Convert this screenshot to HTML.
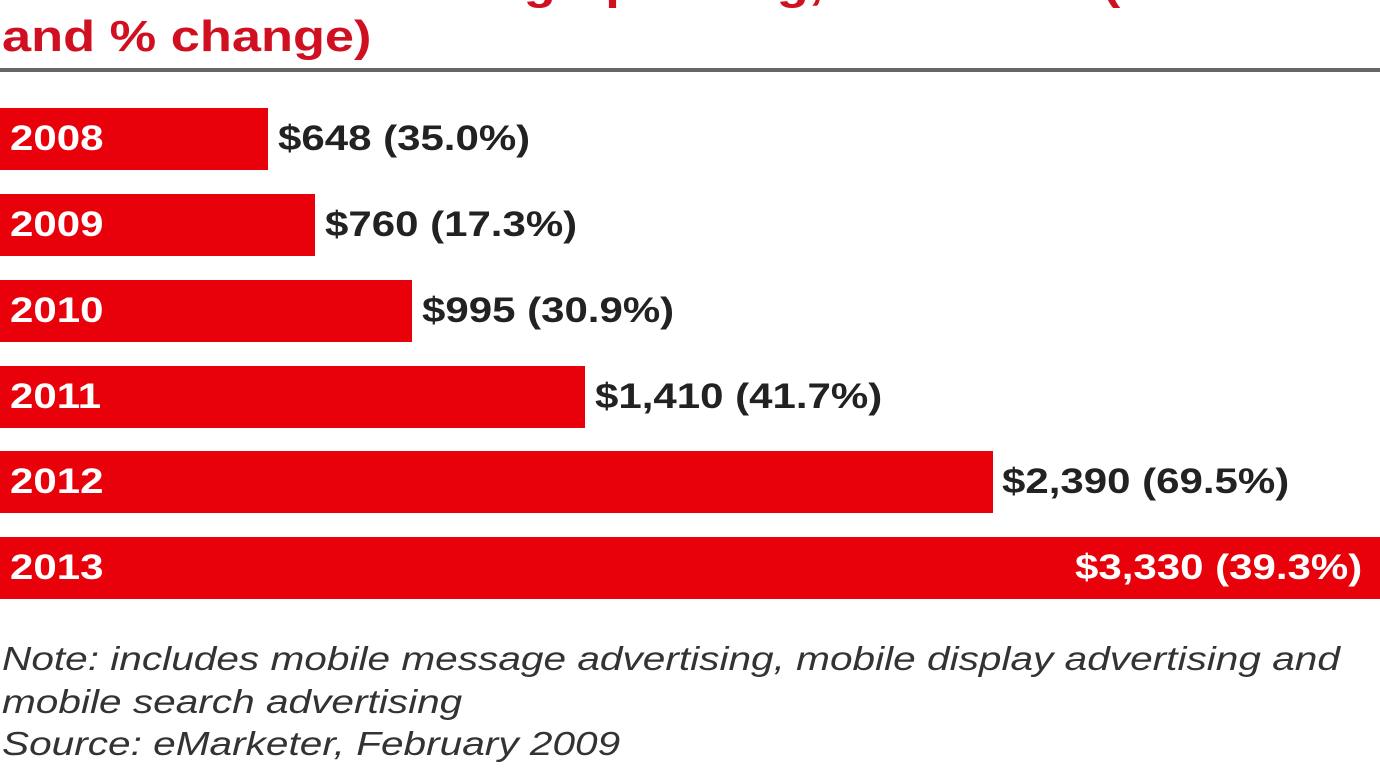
<!DOCTYPE html>
<html><head><style>
body{margin:0;width:1380px;height:777px;overflow:hidden;background:#fff;position:relative;font-family:"Liberation Sans",sans-serif}
.t{position:absolute;left:2px;color:#d01020;font-weight:bold;font-size:44px;white-space:nowrap;transform:scaleX(1.19);transform-origin:left}
.line{position:absolute;left:0;top:68px;width:1380px;height:4px;background:#666}
.bar{position:absolute;left:0;height:62px;background:#e8000a}
.y{position:absolute;left:10px;color:#fff;font-weight:bold;font-size:35px;line-height:62px;transform:scaleX(1.2);transform-origin:left}
.v{position:absolute;color:#222;font-weight:bold;font-size:35px;line-height:62px;white-space:nowrap;transform:scaleX(1.2);transform-origin:left}
.n{position:absolute;left:2px;color:#333;font-style:italic;font-size:33px;white-space:nowrap;transform:scaleX(1.23);transform-origin:left}
</style></head><body>
<div class="t" style="top:-40px">US Mobile Advertising Spending, 2008-2013 (millions</div>
<div class="t" style="top:12px">and % change)</div>
<div class="line"></div>

<div class="bar" style="top:108px;width:268px"></div><div class="y" style="top:108px">2008</div><div class="v" style="top:108px;left:278px">$648 (35.0%)</div>
<div class="bar" style="top:194px;width:315px"></div><div class="y" style="top:194px">2009</div><div class="v" style="top:194px;left:325px">$760 (17.3%)</div>
<div class="bar" style="top:280px;width:412px"></div><div class="y" style="top:280px">2010</div><div class="v" style="top:280px;left:422px">$995 (30.9%)</div>
<div class="bar" style="top:366px;width:585px"></div><div class="y" style="top:366px">2011</div><div class="v" style="top:366px;left:595px">$1,410 (41.7%)</div>
<div class="bar" style="top:451px;width:993px"></div><div class="y" style="top:451px">2012</div><div class="v" style="top:451px;left:1002px">$2,390 (69.5%)</div>
<div class="bar" style="top:537px;width:1380px"></div><div class="y" style="top:537px">2013</div><div class="v" style="top:537px;left:1075px;color:#fff">$3,330 (39.3%)</div>

<div class="n" style="top:640px">Note: includes mobile message advertising, mobile display advertising and</div>
<div class="n" style="top:683px">mobile search advertising</div>
<div class="n" style="top:725px">Source: eMarketer, February 2009</div>
</body></html>
